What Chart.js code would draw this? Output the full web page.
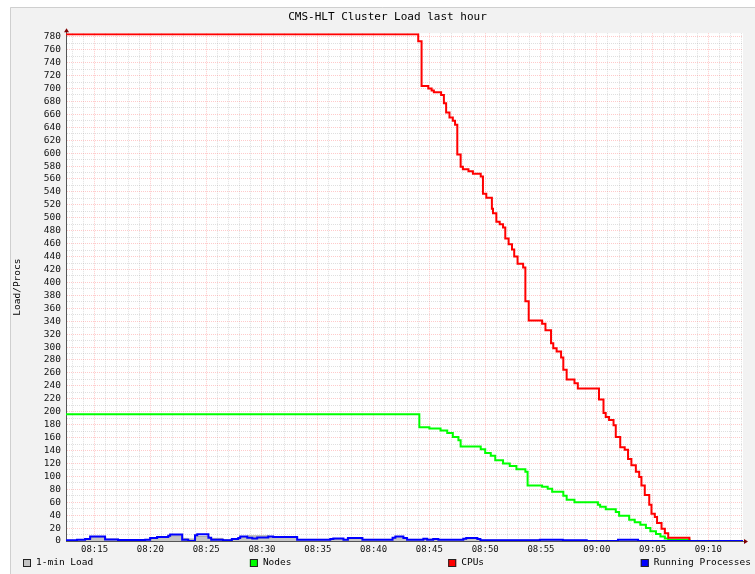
<!DOCTYPE html>
<html>
<head>
<meta charset="utf-8">
<title>CMS-HLT Cluster Load last hour</title>
<script src="https://cdn.jsdelivr.net/npm/chart.js@4.4.1/dist/chart.umd.min.js"></script>
<style>
  html, body { margin: 0; padding: 0; background: #fff; }
  canvas { display: block; }
</style>
</head>
<body>
<canvas id="loadchart" width="755" height="574"></canvas>
<script>
// times are minutes after 08:00
const xStart = 12.44;
const xEnd = 73.1;
const timeLabels = ['08:15', '08:20', '08:25', '08:30', '08:35', '08:40',
  '08:45', '08:50', '08:55', '09:00', '09:05', '09:10'];

const loadTimes = [12.44, 13.5, 14.2, 14.7, 16.0, 17.2, 19.5, 20.1, 20.7, 21.7, 22.9, 23.4,
  24.1, 25.3, 26.5, 27.3, 28.0, 28.7, 30.6, 31.0, 33.2, 36.1, 37.3, 37.7, 39.0, 41.7,
  42.0, 42.7, 43.0, 44.5, 45.8, 48.0, 48.3, 49.3, 49.6, 54.9, 57.0, 59.1, 61.9, 63.7, 73.1];
const loadValues = [1, 2, 3, 6, 3, 2, 2.5, 4, 5.5, 8, 4, 3,
  7, 4, 2, 3, 6, 8, 7, 6.5, 2.5, 3, 2.5, 4, 2.5, 5,
  7, 5, 2.5, 3, 2, 3.5, 5, 3, 1.5, 2, 1, 0.5, 1.5, 0, 0];

const nodeTimes = [12.44, 44.1, 45.0, 46.0, 46.6, 47.1, 47.6, 47.8, 49.6, 50.0, 50.5, 50.9,
  51.6, 52.2, 52.8, 53.6, 53.8, 55.1, 55.6, 56.0, 57.0, 57.3, 58.0, 60.1, 60.3, 60.8,
  61.7, 62.0, 62.9, 63.4, 63.9, 64.4, 64.8, 65.3, 65.7, 66.1, 66.4, 68.3, 73.1];
const nodeValues = [196, 176, 174, 171, 167, 161, 156, 146, 142, 136, 132, 125,
  120, 116, 111, 107, 86, 84, 81, 76, 70, 64, 60, 56, 53, 49,
  45, 39, 33, 29, 25, 20, 15, 11, 7, 4, 2, 0, 0];

const cpuTimes = [12.44, 44.0, 44.3, 44.9, 45.2, 45.4, 46.05, 46.3, 46.5, 46.8, 47.1, 47.3,
  47.5, 47.8, 48.0, 48.5, 48.9, 49.6, 49.8, 50.1, 50.6, 50.7, 51.0, 51.3, 51.6, 51.8,
  52.1, 52.4, 52.6, 52.9, 53.4, 53.6, 53.9, 55.1, 55.4, 55.9, 56.1, 56.4, 56.8, 57.0,
  57.3, 58.0, 58.3, 60.2, 60.6, 60.8, 61.1, 61.5, 61.7, 62.1, 62.5, 62.8, 63.1, 63.5,
  63.8, 64.0, 64.3, 64.7, 64.9, 65.2, 65.4, 65.8, 66.1, 66.4, 68.3, 73.1];
const cpuValues = [784, 773, 704, 700, 697, 694, 690, 677, 663, 655, 650, 644,
  598, 579, 575, 572, 568, 564, 537, 531, 514, 507, 494, 490, 485, 468,
  459, 451, 440, 429, 423, 371, 341, 336, 326, 306, 298, 293, 284, 265,
  250, 244, 236, 219, 198, 192, 187, 179, 161, 145, 141, 127, 117, 107,
  99, 86, 71, 56, 42, 37, 28, 19, 12, 5, 0, 0];

const procTimes = [12.44, 13.43, 14.15, 14.6, 15.94, 17.1, 19.53, 19.98, 20.6, 21.6, 21.77,
  22.85, 23.39, 24.0, 24.2, 25.2, 25.45, 26.5, 27.3, 27.87, 28.05, 28.68, 29.13, 29.57,
  30.56, 31.0, 33.15, 36.12, 36.39, 37.3, 37.7, 39.0, 41.7, 41.95, 42.67, 43.0, 44.46,
  44.8, 45.34, 45.8, 48.04, 48.3, 49.3, 49.57, 54.9, 56.96, 59.1, 61.9, 63.7, 73.1];
const procValues = [1, 2, 3, 7, 2.5, 1.5, 2, 4.5, 6, 8, 10,
  2, 0, 9, 10.5, 5, 2, 1, 3, 4.5, 7, 5, 4, 5.5,
  7, 6, 2, 3, 4, 2, 4.5, 2, 5, 7, 4.5, 2, 3.5,
  2, 3, 2, 3.5, 4.5, 3, 1, 2, 1, 0, 2, 0, 0];

const mono = '"DejaVu Sans Mono", monospace';
const gridMajor = 'rgba(255, 90, 90, 0.32)';
const gridMinor = 'rgba(150, 150, 150, 0.3)';

function series(times, values) {
  return times.map((t, i) => ({ x: t, y: values[i] }));
}

// grey panel behind the graph, white canvas inside the plot
const backdrop = {
  id: 'backdrop',
  beforeDraw(chart) {
    const { ctx, width, height, chartArea: a } = chart;
    ctx.save();
    ctx.fillStyle = '#fff';
    ctx.fillRect(0, 0, width, height);
    ctx.fillStyle = '#f2f2f2';
    ctx.fillRect(10, 7, width - 10, height - 7);
    ctx.strokeStyle = '#cfcfcf';
    ctx.lineWidth = 1;
    ctx.beginPath();
    ctx.moveTo(10.5, height);
    ctx.lineTo(10.5, 7.5);
    ctx.lineTo(width, 7.5);
    ctx.stroke();
    ctx.fillStyle = '#fff';
    ctx.fillRect(a.left, a.top, a.right - a.left, a.bottom - a.top);
    ctx.restore();
  }
};

// rrdtool style arrow heads at the axis ends
const arrows = {
  id: 'arrows',
  afterDraw(chart) {
    const { ctx, chartArea: a } = chart;
    const x0 = Math.round(a.left) + 0.5;
    const y0 = Math.round(a.bottom) + 0.5;
    ctx.save();
    ctx.strokeStyle = '#555';
    ctx.lineWidth = 1;
    ctx.beginPath();
    ctx.moveTo(x0, a.top);
    ctx.lineTo(x0, a.top - 2);
    ctx.moveTo(a.right, y0);
    ctx.lineTo(a.right + 2, y0);
    ctx.stroke();
    ctx.fillStyle = '#7f0000';
    ctx.beginPath();
    ctx.moveTo(x0 - 2.5, a.top - 1);
    ctx.lineTo(x0 + 2.5, a.top - 1);
    ctx.lineTo(x0, a.top - 5);
    ctx.fill();
    ctx.beginPath();
    ctx.moveTo(a.right + 1, y0 - 2.5);
    ctx.lineTo(a.right + 1, y0 + 2.5);
    ctx.lineTo(a.right + 5, y0);
    ctx.fill();
    ctx.restore();
  }
};

// legend spread over the whole width like rrdtool does
const spreadLegend = {
  id: 'spreadLegend',
  afterDraw(chart) {
    const { ctx } = chart;
    const sets = chart.data.datasets;
    const left = 23, right = 751, y = 563, box = 8, gap = 5;
    ctx.save();
    ctx.font = '9.5px ' + mono;
    ctx.textBaseline = 'middle';
    const widths = sets.map(d => box + gap + ctx.measureText(d.label).width);
    const total = widths.reduce((s, w) => s + w, 0);
    const space = (right - left - total) / (sets.length - 1);
    let x = left;
    sets.forEach((d, i) => {
      ctx.fillStyle = d.backgroundColor;
      ctx.fillRect(x, y - 4, box, box);
      ctx.strokeStyle = '#222';
      ctx.lineWidth = 1;
      ctx.strokeRect(x + 0.5, y - 3.5, box - 1, box - 1);
      ctx.fillStyle = '#000';
      ctx.fillText(d.label, x + box + gap, y);
      x += widths[i] + space;
    });
    ctx.restore();
  }
};

const chart = new Chart(document.getElementById('loadchart').getContext('2d'), {
  type: 'line',
  data: {
    datasets: [
      {
        label: '1-min Load',
        data: series(loadTimes, loadValues),
        borderColor: '#a8a8a8',
        backgroundColor: '#c4c4c4',
        borderWidth: 1,
        fill: 'origin',
        order: 3,
      },
      {
        label: 'Nodes',
        data: series(nodeTimes, nodeValues),
        borderColor: '#00ff00',
        backgroundColor: '#00ff00',
        borderWidth: 2,
        fill: false,
        order: 2,
      },
      {
        label: 'CPUs',
        data: series(cpuTimes, cpuValues),
        borderColor: '#ff0000',
        backgroundColor: '#ff0000',
        borderWidth: 2,
        fill: false,
        order: 1,
      },
      {
        label: 'Running Processes',
        data: series(procTimes, procValues),
        borderColor: '#0000ff',
        backgroundColor: '#0000ff',
        borderWidth: 2,
        fill: false,
        order: 0,
      },
    ],
  },
  options: {
    responsive: false,
    animation: false,
    layout: { padding: { left: 32, right: 12, top: 0, bottom: 0 } },
    elements: {
      point: { radius: 0 },
      line: { stepped: true, tension: 0 },
    },
    plugins: {
      legend: { display: false },
      tooltip: { enabled: false },
      title: {
        display: true,
        text: 'CMS-HLT Cluster Load last hour',
        color: '#000',
        font: { family: mono, size: 11, weight: 'normal' },
        padding: { top: 11, bottom: 9 },
      },
    },
    scales: {
      x: {
        type: 'linear',
        min: xStart,
        max: xEnd,
        afterFit: scale => { scale.height = 33; },
        ticks: {
          stepSize: 1,
          autoSkip: false,
          maxRotation: 0,
          includeBounds: false,
          padding: 3,
          color: '#111',
          font: { family: mono, size: 9 },
          callback: v => {
            const m = Math.round(v);
            return m % 5 === 0 ? (timeLabels[(m - 15) / 5] || '') : '';
          },
        },
        grid: {
          drawTicks: false,
          color: c => (Math.round(c.tick.value) % 5 === 0 ? gridMajor : gridMinor),
        },
        border: { color: '#555', width: 1, dash: [1, 1] },
      },
      y: {
        min: 0,
        max: 785.5,
        afterFit: scale => { scale.width = 34; },
        ticks: {
          stepSize: 10,
          autoSkip: false,
          includeBounds: false,
          padding: 5,
          color: '#111',
          font: { family: mono, size: 9.5 },
          callback: v => (Math.round(v) % 20 === 0 ? String(Math.round(v)) : ''),
        },
        grid: {
          drawTicks: false,
          color: c => (Math.round(c.tick.value) % 20 === 0 ? gridMajor : gridMinor),
        },
        border: { color: '#555', width: 1, dash: [1, 1] },
        title: {
          display: true,
          text: 'Load/Procs',
          color: '#000',
          font: { family: mono, size: 9.5 },
          padding: { top: -20, bottom: 0 },
        },
      },
    },
  },
  plugins: [backdrop, arrows, spreadLegend],
});
</script>
</body>
</html>
